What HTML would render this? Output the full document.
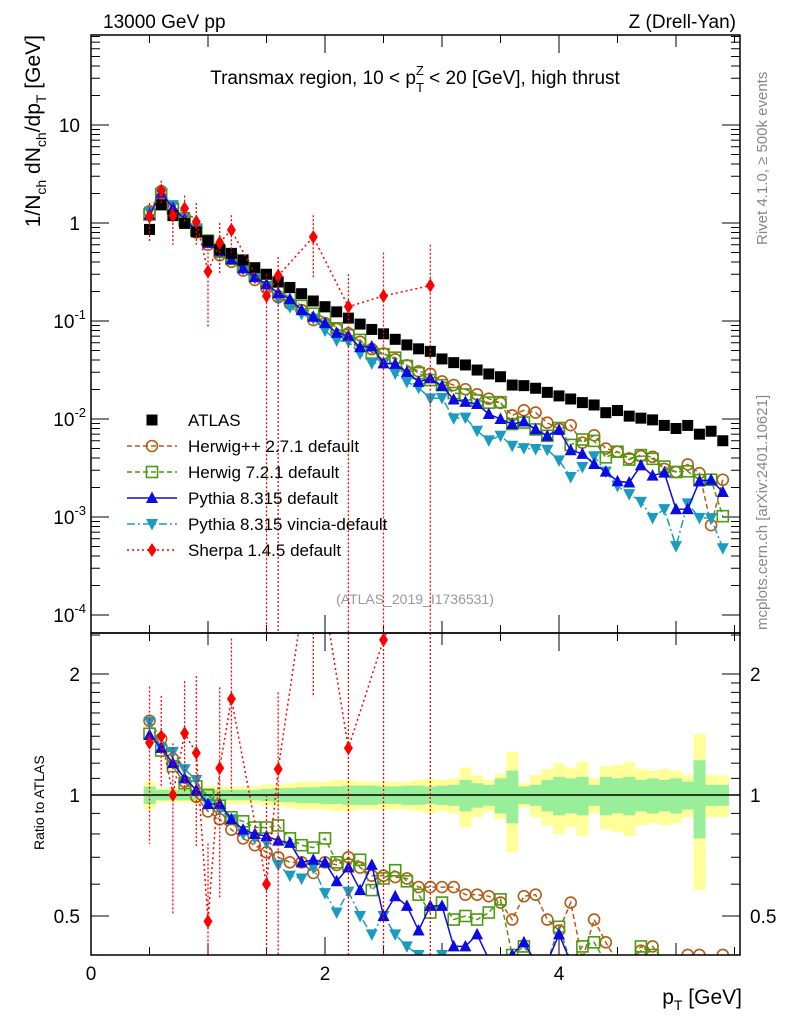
<!DOCTYPE html>
<html><head><meta charset="utf-8"><style>
html,body{margin:0;padding:0;background:#fff;width:786px;height:1024px;overflow:hidden;}
svg{display:block;font-family:"Liberation Sans",Arial,sans-serif;}
</style></head><body>
<svg id="c" width="786" height="1024" viewBox="0 0 786 1024" xmlns="http://www.w3.org/2000/svg">
<defs>
<clipPath id="cm"><rect x="91" y="35" width="649" height="598"/></clipPath>
<clipPath id="cr"><rect x="91" y="633" width="649" height="322"/></clipPath>
</defs>
<text x="103" y="28" font-size="19">13000 GeV pp</text>
<text x="736" y="28" font-size="19" text-anchor="end">Z (Drell-Yan)</text>
<text x="415" y="84" font-size="19" text-anchor="middle">Transmax region, 10 &lt; p<tspan font-size="13" dy="8">T</tspan><tspan font-size="13" dx="-8" dy="-17">Z</tspan><tspan dy="9"> &lt; 20 [GeV], high thrust</tspan></text>
<text transform="translate(40,35) rotate(-90)" font-size="21" text-anchor="end">1/N<tspan font-size="14" dy="6">ch</tspan><tspan dy="-6"> dN</tspan><tspan font-size="14" dy="6">ch</tspan><tspan dy="-6">/dp</tspan><tspan font-size="14" dy="6">T</tspan><tspan dy="-6"> [GeV]</tspan></text>
<text transform="translate(44,850) rotate(-90)" font-size="14">Ratio to ATLAS</text>
<text x="742" y="1004" font-size="21" text-anchor="end">p<tspan font-size="14" dy="6">T</tspan><tspan dy="-6"> [GeV]</tspan></text>
<text transform="translate(767,245) rotate(-90)" font-size="15" fill="#888">Rivet 4.1.0, ≥ 500k events</text>
<text transform="translate(767,630) rotate(-90)" font-size="15" fill="#888">mcplots.cern.ch [arXiv:2401.10621]</text>
<text x="415" y="604" font-size="14" fill="#999" text-anchor="middle">(ATLAS_2019_I1736531)</text>
<g id="band" clip-path="url(#cr)"></g>
<g id="axes"></g>
<g id="mainMarks" clip-path="url(#cm)"></g>
<g id="ratioMarks" clip-path="url(#cr)"></g>
<g id="legend"></g>
<rect x="91" y="35" width="649" height="598" fill="none" stroke="#000" stroke-width="1.5"/>
<rect x="91" y="633" width="649" height="322" fill="none" stroke="#000" stroke-width="1.5"/>
</svg>
<script>
const xs = [0.5,0.6,0.7,0.8,0.9,1.0,1.1,1.2,1.3,1.4,1.5,1.6,1.7,1.8,1.9,2.0,2.1,2.2,2.3,2.4,2.5,2.6,2.7,2.8,2.9,3.0,3.1,3.2,3.3,3.4,3.5,3.6,3.7,3.8,3.9,4.0,4.1,4.2,4.3,4.4,4.5,4.6,4.7,4.8,4.9,5.0,5.1,5.2,5.3,5.4];
const atlas = [0.86,1.53,1.19,0.99,0.81,0.66,0.54,0.49,0.42,0.35,0.30,0.25,0.22,0.19,0.16,0.14,0.124,0.107,0.093,0.082,0.074,0.065,0.057,0.052,0.049,0.041,0.0376,0.0356,0.0316,0.0288,0.027,0.0222,0.0219,0.0206,0.0187,0.0172,0.016,0.0147,0.0139,0.0116,0.0122,0.0107,0.0102,0.0098,0.0086,0.0080,0.0086,0.0070,0.0075,0.0060];
const errIn = [0.05,0.03,0.03,0.03,0.03,0.03,0.03,0.03,0.03,0.03,0.035,0.04,0.04,0.045,0.045,0.05,0.05,0.055,0.055,0.055,0.05,0.05,0.055,0.055,0.05,0.055,0.06,0.09,0.07,0.06,0.10,0.15,0.05,0.06,0.09,0.11,0.10,0.11,0.06,0.11,0.10,0.11,0.09,0.10,0.09,0.10,0.08,0.22,0.06,0.06];
const errOut = [0.08,0.04,0.04,0.04,0.05,0.05,0.05,0.05,0.05,0.05,0.06,0.06,0.07,0.08,0.08,0.08,0.09,0.09,0.08,0.08,0.08,0.08,0.08,0.09,0.10,0.09,0.10,0.17,0.12,0.09,0.13,0.28,0.07,0.12,0.16,0.20,0.17,0.21,0.10,0.18,0.19,0.21,0.16,0.15,0.16,0.15,0.12,0.42,0.12,0.12];
const ratioHpp = [1.53,1.38,1.23,1.08,0.99,0.91,0.87,0.82,0.78,0.75,0.72,0.70,0.68,0.68,0.64,0.68,0.67,0.70,0.66,0.63,0.63,0.625,0.62,0.59,0.59,0.59,0.59,0.565,0.565,0.56,0.54,0.49,0.56,0.565,0.49,0.46,0.54,0.39,0.49,0.43,0.38,0.37,0.41,0.42,0.36,0.36,0.40,0.40,0.11,0.40];
const ratioH7 = [1.42,1.29,1.18,1.07,1.05,1.0,0.94,0.88,0.86,0.83,0.83,0.84,0.78,0.75,0.74,0.78,0.68,0.67,0.69,0.58,0.62,0.65,0.61,0.565,0.51,0.54,0.49,0.50,0.49,0.51,0.55,0.40,0.42,0.38,0.36,0.47,0.34,0.42,0.43,0.35,0.38,0.36,0.42,0.40,0.38,0.36,0.34,0.34,0.32,0.17];
const ratioPy = [1.41,1.31,1.20,1.10,1.03,0.95,0.95,0.87,0.82,0.80,0.79,0.77,0.76,0.68,0.69,0.68,0.61,0.66,0.58,0.67,0.50,0.56,0.53,0.46,0.53,0.53,0.42,0.42,0.45,0.39,0.37,0.40,0.43,0.38,0.36,0.45,0.30,0.30,0.25,0.25,0.19,0.21,0.33,0.27,0.33,0.15,0.14,0.33,0.32,0.30];
const ratioVin = [1.52,1.31,1.28,1.16,1.09,0.95,0.92,0.87,0.80,0.78,0.76,0.67,0.63,0.62,0.66,0.57,0.51,0.575,0.50,0.45,0.50,0.45,0.42,0.40,0.33,0.40,0.27,0.29,0.24,0.21,0.25,0.24,0.23,0.24,0.26,0.22,0.16,0.22,0.30,0.25,0.17,0.16,0.14,0.10,0.14,0.063,0.16,0.14,0.13,0.08];
const sherpa = [1.16,2.14,1.19,1.41,1.03,0.32,0.63,0.85,null,null,0.18,0.29,null,null,0.72,null,null,0.14,null,null,0.18,null,null,null,0.23];
const sherpaHi = [1.6,2.7,1.6,1.9,1.6,0.5,1.0,1.2,null,null,0.3,0.45,null,null,1.2,null,null,0.3,null,null,0.5,null,null,null,0.6];
const sherpaLo = [0.65,1.6,0.6,1.0,0.6,0.085,0.3,0.5,null,null,1e-6,1e-6,null,null,0.28,null,null,1e-6,null,null,1e-6,null,null,null,1e-6];
const mainDecades = [-4,-3,-2,-1,0,1];
const ratioTicks = [0.5,1,2];
const xLabels = [0,2,4];

const NS="http://www.w3.org/2000/svg";
const clamp=(v,a,b)=>Math.max(a,Math.min(b,v));
const X = x => 91 + 117*x;
const Yraw = v => 223 - 98*Math.log10(v);
const Rraw = r => 795 - 121*Math.log2(r);
const Y = v => clamp(Yraw(v),30,640);
const R = r => clamp(Rraw(r),628,960);
const inM = v => Yraw(v)>=35 && Yraw(v)<=633;
const inR = r => Rraw(r)>=633 && Rraw(r)<=955;
function mk(tag, attrs, parent){const e=document.createElementNS(NS,tag);for(const k in attrs)e.setAttribute(k,attrs[k]);parent.appendChild(e);return e;}
const axes=document.getElementById('axes');

for(let t=0;t<=5.5;t+=0.5){
  const major = Math.abs(t%1)<1e-9; const big = Math.abs(t%2)<1e-9;
  const L = big?18:(major?12:8);
  [[955,-1],[633,-1],[633,1],[35,1]].forEach(([y,d])=>{
    const l=mk('line',{x1:X(t),x2:X(t),y1:y,y2:y+d*L,stroke:'#000','stroke-width':1},axes);
    
    
  });
}
xLabels.forEach(t=>{
  const tx=mk('text',{x:X(t),y:980,'font-size':19,'text-anchor':'middle'},axes);
  tx.textContent=String(t);
  
  
});
mainDecades.forEach(d=>{
  for(let m=1;m<10;m++){
    const v=m*Math.pow(10,d); const y=Yraw(v);
    if(y<35||y>633) continue;
    const L = m===1?18:9;
    [[91,1],[740,-1]].forEach(([x,s])=>{
      const l=mk('line',{x1:x,x2:x+s*L,y1:y,y2:y,stroke:'#000','stroke-width':1},axes);
      
      
    });
  }
  const tx=mk('text',{x:80,y:Yraw(Math.pow(10,d))+7,'font-size':19,'text-anchor':'end'},axes);
  
  
  if(d===0) tx.textContent='1';
  else if(d===1) tx.textContent='10';
  else { tx.textContent='10'; const sp=mk('tspan',{'font-size':13,dy:-9},tx); sp.textContent=String(d); tx.setAttribute('x',86); }
});
for(let v=0.4; v<=2.6; v+= (v<2?0.1:0.5)){
  const vv=Math.round(v*10)/10; const y=Rraw(vv);
  if(y<633||y>955) continue;
  const major = ratioTicks.includes(vv);
  [[91,1],[740,-1]].forEach(([x,s])=>{
    const l=mk('line',{x1:x,x2:x+s*(major?18:9),y1:y,y2:y,stroke:'#000','stroke-width':1},axes);
    
    
  });
}
ratioTicks.forEach(v=>{
  [[80,'end'],[750,'start']].forEach(([x,a])=>{
    const tx=mk('text',{x:x,y:Rraw(v)+7,'font-size':19,'text-anchor':a},axes);
    tx.textContent=String(v);
    
    
  });
});

const band=document.getElementById('band');
xs.forEach((x,i)=>{
  const y1=mk('rect',{x:X(x-0.05),width:12,y:R(1+errOut[i]),height:R(1-errOut[i])-R(1+errOut[i]),fill:'#ffff99'},band);
  
  
});
xs.forEach((x,i)=>{
  const g1=mk('rect',{x:X(x-0.05),width:12,y:R(1+errIn[i]),height:R(1-errIn[i])-R(1+errIn[i]),fill:'#99ee99'},band);
  
  
});
const ref=mk('line',{x1:91,x2:740,y1:Rraw(1),y2:Rraw(1),stroke:'#000','stroke-width':1.5},axes);



function marker(g,type,cx,cy,color,name){
  let e;
  if(type==='sq') e=mk('rect',{x:cx-5.5,y:cy-5.5,width:11,height:11,fill:'#000'},g);
  else if(type==='osq') e=mk('rect',{x:cx-5.5,y:cy-5.5,width:11,height:11,fill:'none',stroke:color,'stroke-width':1.6},g);
  else if(type==='circ') e=mk('circle',{cx:cx,cy:cy,r:5.5,fill:'none',stroke:color,'stroke-width':1.6},g);
  else if(type==='tri') e=mk('path',{d:`M${cx},${cy-6.5}L${cx+6},${cy+5}L${cx-6},${cy+5}Z`,fill:color},g);
  else if(type==='dtri') e=mk('path',{d:`M${cx},${cy+6.5}L${cx+6},${cy-5}L${cx-6},${cy-5}Z`,fill:color},g);
  else e=mk('path',{d:`M${cx},${cy-7}L${cx+4.5},${cy}L${cx},${cy+7}L${cx-4.5},${cy}Z`,fill:color},g);
  
  
  return e;
}
// polyline through points, clipping segments to a y-range by interpolation
function clippedPts(px,py,ymin,ymax){
  const out=[];
  for(let i=0;i<px.length;i++){
    out.push([px[i],clamp(py[i],ymin,ymax)]);
  }
  return out.map(p=>p[0]+','+p[1]).join(' ');
}
const mainG=document.getElementById('mainMarks');
const ratG=document.getElementById('ratioMarks');
const series=[
  {r:ratioHpp,c:'#b35c14',t:'circ',dash:'5,3',n:'herwigpp'},
  {r:ratioH7,c:'#4c9a12',t:'osq',dash:'5,3',n:'herwig7'},
  {r:ratioVin,c:'#1a9cc0',t:'dtri',dash:'8,3,2,3',n:'pythia-vincia'},
  {r:ratioPy,c:'#0a0ae6',t:'tri',dash:'',n:'pythia'}
];
series.forEach(s=>{
  const px=xs.map(X);
  const pm=mk('polyline',{points:clippedPts(px,xs.map((x,i)=>Yraw(atlas[i]*s.r[i])),35,633),fill:'none',stroke:s.c,'stroke-width':1.5,'stroke-dasharray':s.dash},mainG);
  
  
  const pr=mk('polyline',{points:clippedPts(px,xs.map((x,i)=>Rraw(s.r[i])),633,962),fill:'none',stroke:s.c,'stroke-width':1.5,'stroke-dasharray':s.dash},ratG);
  
  
  xs.forEach((x,i)=>{
    if(inM(atlas[i]*s.r[i])) marker(mainG,s.t,X(x),Yraw(atlas[i]*s.r[i]),s.c,s.n+'-point');
    if(Rraw(s.r[i])<=958) marker(ratG,s.t,X(x),Rraw(s.r[i]),s.c,s.n+'-ratio-point');
  });
});
xs.forEach((x,i)=>marker(mainG,'sq',X(x),Yraw(atlas[i]),'#000','atlas-point'));
const shIdx=[]; sherpa.forEach((v,i)=>{ if(v!==null) shIdx.push(i); });
const shM=mk('polyline',{points:shIdx.map(i=>X(xs[i])+','+Y(sherpa[i])).join(' '),fill:'none',stroke:'#f00','stroke-width':1.5,'stroke-dasharray':'2,3'},mainG);


// ratio sherpa line: interpolate crossings of top edge
let shRpts=[];
for(let k=0;k<shIdx.length;k++){
  const i=shIdx[k]; const x=X(xs[i]); const y=Rraw(sherpa[i]/atlas[i]);
  if(k>0){
    const j=shIdx[k-1]; const x0=X(xs[j]); const y0=Rraw(sherpa[j]/atlas[j]);
    if((y0<633)!==(y<633)){ const t=(633-y0)/(y-y0); shRpts.push([x0+t*(x-x0),633]); }
  }
  shRpts.push([x,clamp(y,633,955)]);
}
const shR=mk('polyline',{points:shRpts.map(p=>p[0]+','+p[1]).join(' '),fill:'none',stroke:'#f00','stroke-width':1.5,'stroke-dasharray':'2,3'},ratG);


shIdx.forEach(i=>{
  const x=X(xs[i]);
  const e1=mk('line',{x1:x,x2:x,y1:clamp(Yraw(sherpaHi[i]),35,633),y2:clamp(Yraw(sherpaLo[i]),35,633),stroke:'#f00','stroke-width':1.3,'stroke-dasharray':'2,2'},mainG);
  
  
  const e2=mk('line',{x1:x,x2:x,y1:clamp(Rraw(sherpaHi[i]/atlas[i]),633,955),y2:clamp(Rraw(sherpaLo[i]/atlas[i]),633,955),stroke:'#f00','stroke-width':1.3,'stroke-dasharray':'2,2'},ratG);
  
  
  marker(mainG,'dia',x,Yraw(sherpa[i]),'#f00','sherpa-point');
  if(inR(sherpa[i]/atlas[i]) || Rraw(sherpa[i]/atlas[i])>=630) marker(ratG,'dia',x,Rraw(sherpa[i]/atlas[i]),'#f00','sherpa-ratio-point');
});

const lg=document.getElementById('legend');
const entries=[
  ['ATLAS','sq','#000',''],
  ['Herwig++ 2.7.1 default','circ','#b35c14','5,3'],
  ['Herwig 7.2.1 default','osq','#4c9a12','5,3'],
  ['Pythia 8.315 default','tri','#0a0ae6',''],
  ['Pythia 8.315 vincia-default','dtri','#1a9cc0','8,3,2,3'],
  ['Sherpa 1.4.5 default','dia','#f00','2,3']
];
entries.forEach((e,k)=>{
  const y=420+26*k;
  if(k>0){
    const l=mk('line',{x1:127,x2:177,y1:y,y2:y,stroke:e[2],'stroke-width':1.5,'stroke-dasharray':e[3]},lg);
    
    
  }
  marker(lg,e[1],152,y,e[2],'legend-marker');
  const t=mk('text',{x:188,y:y+6,'font-size':17},lg);
  t.textContent=e[0];
  
  
});
</script>
</body></html>
